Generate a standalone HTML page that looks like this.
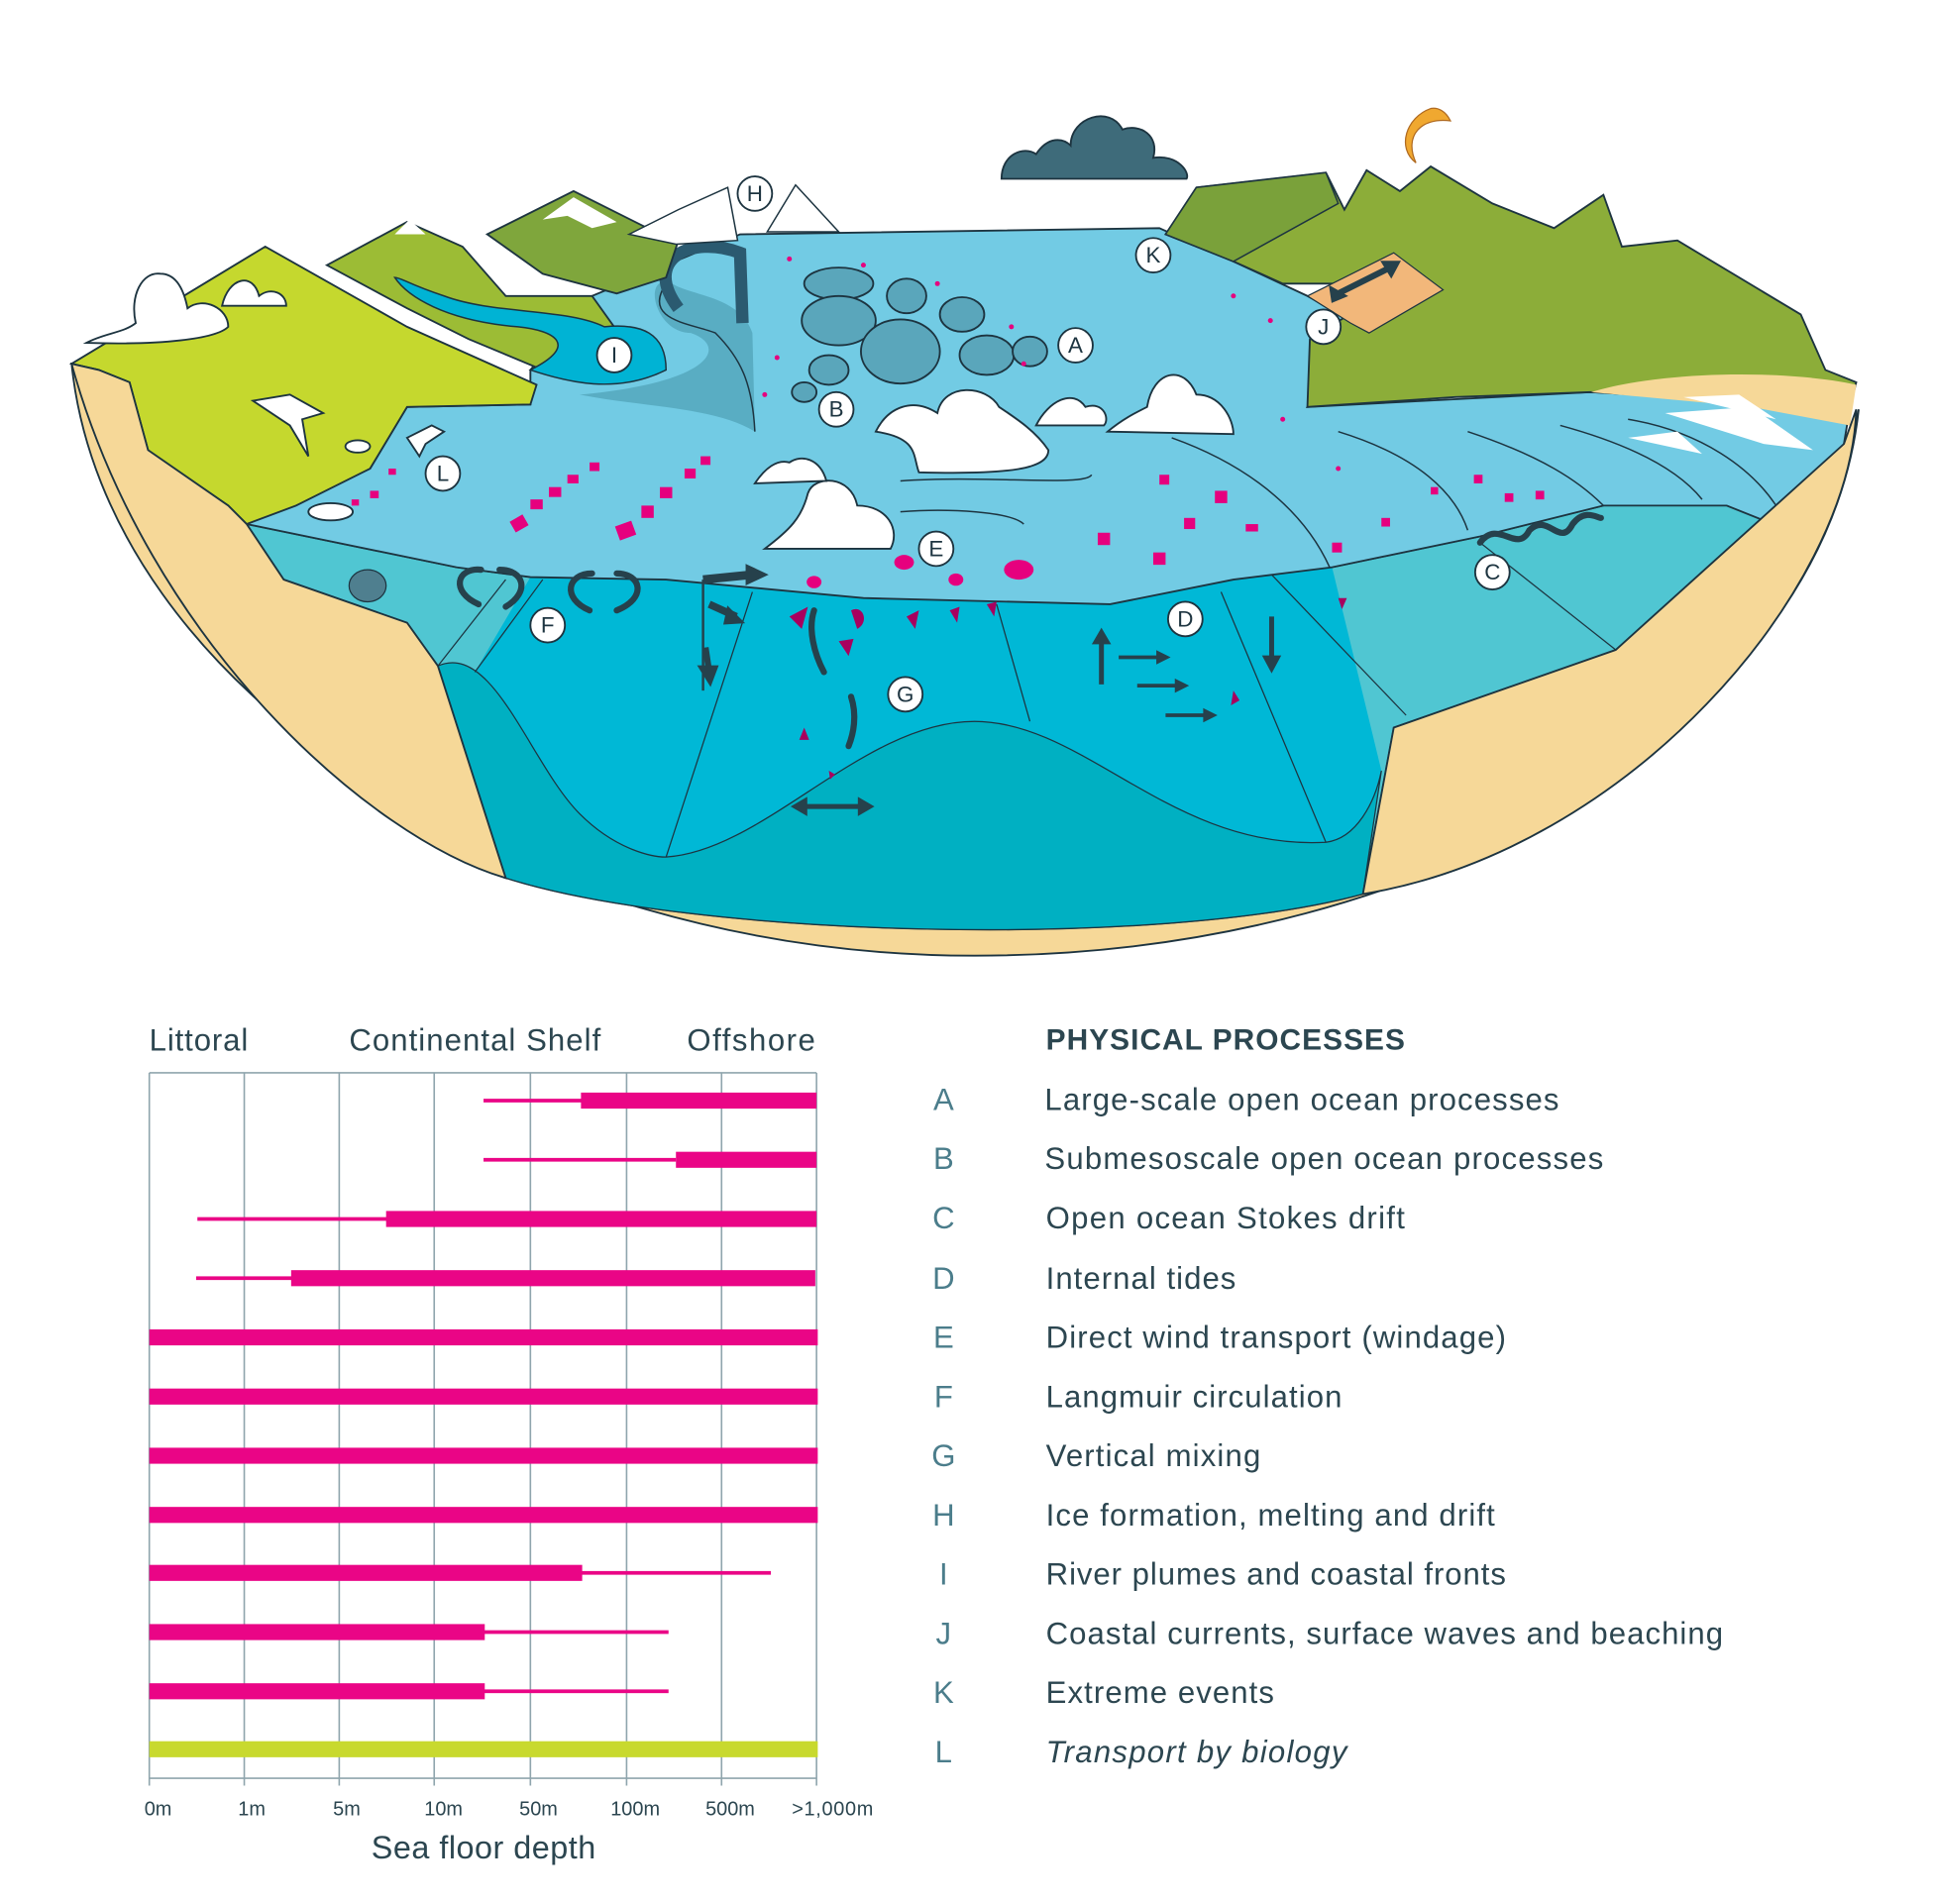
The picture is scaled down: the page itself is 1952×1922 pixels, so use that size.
<!DOCTYPE html>
<html><head><meta charset="utf-8"><style>
html,body{margin:0;padding:0;background:#fff}
svg{display:block}
text{font-family:"Liberation Sans",sans-serif}
</style></head><body>
<svg width="1952" height="1922" viewBox="0 0 1568 1544" xmlns="http://www.w3.org/2000/svg">
<rect width="1568" height="1544" fill="#fff"/>
<path d="M58,295 C85,560 420,775 790,775 C1170,775 1480,580 1507,332 L1500,360 L1300,330 L600,330 Z" fill="#f6d898" stroke="#1d3440" stroke-width="1.5"/>
<path d="M200,425 L230,470 L330,505 L355,540 L410,712 C560,760 940,770 1105,725 L1130,590 L1310,527 L1495,360 L1300,410 L1200,435 L1080,460 L1000,470 L900,490 L700,485 L540,470 L430,468 L370,460 Z" fill="#50c6d2" stroke="#1d3440" stroke-width="1.2"/>
<path d="M355,540 L385,545 L430,468 L540,470 L700,485 L900,490 L1000,470 L1080,460 L1120,625 L1105,725 C940,770 560,760 410,712 Z" fill="#00b8d6"/>
<path d="M355,540 C400,520 430,620 470,660 C500,690 530,695 540,695 C620,690 700,585 790,585 C880,585 950,690 1075,683 C1100,680 1115,650 1120,625 L1105,725 C940,770 560,760 410,712 Z" fill="#00b0c2" stroke="#1d3440" stroke-width="1"/>
<g stroke="#1d3440" stroke-width="1" fill="none">
<path d="M540,695 L610,480"/><path d="M835,585 L808,490"/><path d="M1075,683 L990,480"/><path d="M1140,580 L1030,465"/><path d="M1310,527 L1200,440"/>
<path d="M355,540 L410,470"/><path d="M385,545 L440,470"/>
</g>
<path d="M200,425 L300,380 L330,330 L430,328 L430,300 L480,240 L600,190 L940,185 L1000,212 L1060,240 L1100,262 L1060,330 L1290,318 L1500,330 L1495,360 L1450,430 L1400,410 L1300,410 L1200,435 L1080,460 L1000,470 L900,490 L700,485 L540,470 L430,468 L370,460 Z" fill="#72cbe4" stroke="#1d3440" stroke-width="1.5"/>
<g stroke="#1d3440" stroke-width="1.2" fill="none">
<path d="M950,355 C1020,380 1060,420 1078,460"/><path d="M1085,350 C1150,370 1180,400 1190,430"/><path d="M1190,350 C1250,370 1280,390 1300,410"/><path d="M1265,345 C1320,360 1360,380 1380,405"/><path d="M1320,340 C1380,350 1420,380 1440,410"/>
<path d="M730,390 C800,385 880,395 885,385"/><path d="M730,415 C770,412 820,415 830,425"/>
</g>
<g fill="#5aa6bb" stroke="#1d3440" stroke-width="1.5">
<ellipse cx="680" cy="230" rx="28" ry="13"/><ellipse cx="735" cy="240" rx="16" ry="14"/><ellipse cx="780" cy="255" rx="18" ry="14"/>
<ellipse cx="680" cy="260" rx="30" ry="20"/><ellipse cx="730" cy="285" rx="32" ry="26"/><ellipse cx="800" cy="288" rx="22" ry="16"/><ellipse cx="835" cy="285" rx="14" ry="12"/>
<ellipse cx="672" cy="300" rx="16" ry="12"/><ellipse cx="652" cy="318" rx="10" ry="8"/>
</g>
<path d="M470,320 C520,330 580,330 612,350 L610,270 C600,240 560,240 545,230 C520,220 530,270 560,270 C590,280 580,310 470,320 Z" fill="#4f9fb5" opacity="0.7"/>
<path d="M540,230 C520,260 560,262 580,270 C600,290 610,310 612,350" fill="none" stroke="#1d3440" stroke-width="1.2"/>
<path d="M550,250 C520,210 560,190 600,205 L602,262" fill="none" stroke="#2b5a70" stroke-width="10"/>
<path d="M58,295 L215,200 L330,265 L435,312 L430,328 L330,330 L300,380 L240,410 L200,425 L185,410 L120,365 L105,310 L80,300 Z" fill="#c5d82e" stroke="#1d3440" stroke-width="1.5"/>
<path d="M58,295 L80,300 L105,310 L120,365 L185,410 L200,425 L230,470 L330,505 L355,540 L410,712 C300,680 120,520 58,295 Z" fill="#f6d898" stroke="#1d3440" stroke-width="1.5"/>
<path d="M265,215 L330,180 L375,200 L410,240 L480,240 L500,268 L440,300 L380,275 L330,250 Z" fill="#9cbc35" stroke="#1d3440" stroke-width="1.5"/>
<path d="M395,190 L465,155 L525,185 L550,195 L540,225 L500,238 L440,222 Z" fill="#7fa63c" stroke="#1d3440" stroke-width="1.5"/>
<path d="M440,178 L465,160 L500,180 L480,185 L460,175 Z" fill="#fff"/>
<path d="M320,190 L332,178 L345,190 Z" fill="#fff"/>
<path d="M320,225 C330,240 360,260 420,265 C450,268 470,280 430,300 C460,310 500,320 540,300 C540,270 520,262 490,265 C460,250 400,255 360,240 C330,230 325,225 320,225 Z" fill="#00b3d4" stroke="#1d3440" stroke-width="1.2"/>
<path d="M510,190 L550,170 L590,152 L598,195 L548,198 Z" fill="#fff" stroke="#1d3440" stroke-width="1.2"/>
<path d="M622,188 L645,150 L680,188 Z" fill="#fff" stroke="#1d3440" stroke-width="1.2"/>
<path d="M945,190 L970,152 L1075,140 L1090,170 L1108,138 L1135,155 L1160,135 L1210,165 L1260,185 L1300,158 L1315,200 L1360,195 L1460,255 L1480,300 L1505,310 L1500,330 L1290,318 L1180,322 L1060,330 L1062,275 L1110,245 L1100,230 L1040,230 L1000,212 Z" fill="#8cad39" stroke="#1d3440" stroke-width="1.5"/>
<path d="M945,190 L970,152 L1075,140 L1085,165 L1000,212 Z" fill="#7aa13a" stroke="#1d3440" stroke-width="1.2"/>
<path d="M1060,240 L1130,205 L1170,235 L1110,270 L1095,262 Z" fill="#f2b77a" stroke="#1d3440" stroke-width="1"/>
<path d="M1290,318 C1350,300 1450,300 1505,312 L1500,345 L1420,330 Z" fill="#f6d898"/>
<g fill="#fff"><path d="M1350,335 L1420,330 L1470,365 L1430,360 Z"/><path d="M1365,322 L1410,320 L1440,340 Z"/><path d="M1320,355 L1360,350 L1380,368 Z"/></g>
<path d="M1495,360 L1505,332 C1500,480 1320,690 1105,725 L1130,590 L1310,527 Z" fill="#f6d898" stroke="#1d3440" stroke-width="1.5"/>
<path d="M1160,88 C1140,95 1132,120 1148,132 C1138,110 1152,95 1176,98 C1172,90 1166,87 1160,88 Z" fill="#f0a830" stroke="#b06a20" stroke-width="1"/>
<path d="M812,145 C812,125 830,118 840,125 C850,110 862,112 868,118 C868,95 900,85 910,105 C925,100 940,110 935,128 C955,125 965,140 962,145 Z" fill="#3e6b7a" stroke="#1d3440" stroke-width="1.5"/>
<g fill="#fff" stroke="#1d3440" stroke-width="1.5">
<path d="M70,278 C85,270 100,270 110,262 C105,240 115,220 130,222 C145,222 150,240 152,250 C165,240 185,250 185,265 C175,275 130,280 70,278 Z"/>
<path d="M180,248 C185,225 205,220 210,240 C220,232 232,238 232,248 Z"/>
<path d="M710,350 C720,330 740,322 760,335 C765,310 800,312 810,330 C825,340 840,350 850,365 C850,380 820,385 745,383 C740,370 745,355 710,350 Z"/>
<path d="M898,350 C910,340 920,335 930,330 C935,300 960,295 970,320 C990,320 1000,340 1000,352 Z"/>
<path d="M840,345 C850,325 870,315 880,330 C895,325 900,340 895,345 Z"/>
<path d="M620,445 C640,430 650,420 655,400 C660,385 690,385 695,410 C720,410 730,430 722,445 Z"/>
<path d="M612,392 C620,380 630,372 640,375 C650,368 665,372 670,390 Z"/>
</g>
<g fill="#e6007e">
<rect x="415" y="420" width="12" height="10" transform="rotate(-30 420 425)"/><rect x="430" y="405" width="10" height="8"/><rect x="445" y="395" width="10" height="8"/><rect x="460" y="385" width="9" height="7"/><rect x="478" y="375" width="8" height="7"/>
<rect x="500" y="425" width="14" height="12" transform="rotate(-20 505 430)"/><rect x="520" y="410" width="10" height="10"/><rect x="535" y="395" width="10" height="9"/><rect x="555" y="380" width="9" height="8"/><rect x="568" y="370" width="8" height="7"/>
<ellipse cx="733" cy="456" rx="8" ry="6"/><ellipse cx="826" cy="462" rx="12" ry="8"/><ellipse cx="775" cy="470" rx="6" ry="5"/><ellipse cx="660" cy="472" rx="6" ry="5"/>
<rect x="890" y="432" width="10" height="10"/><rect x="935" y="448" width="10" height="10"/><rect x="960" y="420" width="9" height="9"/><rect x="985" y="398" width="10" height="10"/><rect x="940" y="385" width="8" height="8"/><rect x="1010" y="425" width="10" height="6"/>
<rect x="1080" y="440" width="8" height="8"/><rect x="1120" y="420" width="7" height="7"/><rect x="1195" y="385" width="7" height="7"/><rect x="1220" y="400" width="7" height="7"/><rect x="1245" y="398" width="7" height="7"/><rect x="1160" y="395" width="6" height="6"/>
<rect x="300" y="398" width="7" height="6"/><rect x="285" y="405" width="6" height="5"/><rect x="315" y="380" width="6" height="5"/>
<circle cx="640" cy="210" r="2"/><circle cx="700" cy="215" r="2"/><circle cx="760" cy="230" r="2"/><circle cx="820" cy="265" r="2"/><circle cx="830" cy="295" r="2"/><circle cx="630" cy="290" r="2"/><circle cx="620" cy="320" r="2"/><circle cx="1040" cy="340" r="2"/><circle cx="1085" cy="380" r="2"/><circle cx="1000" cy="240" r="2"/><circle cx="1030" cy="260" r="2"/>
</g>
<g fill="#a8005e">
<path d="M640,500 L655,492 L650,510 Z"/><path d="M690,495 C700,490 705,505 695,510 Z"/><path d="M735,500 L745,495 L742,510 Z"/><path d="M680,520 L692,518 L688,532 Z"/><path d="M770,495 L778,492 L776,505 Z"/><path d="M800,490 L808,488 L806,500 Z"/><path d="M1000,560 L1005,568 L998,572 Z"/><path d="M1085,485 L1092,485 L1088,494 Z"/><path d="M652,590 L656,600 L648,600 Z"/><path d="M672,625 L677,628 L673,632 Z"/>
</g>
<g fill="none" stroke="#26414c" stroke-width="5" stroke-linecap="round">
<path d="M388,490 C365,480 370,460 390,462"/><path d="M410,492 C430,480 425,462 405,462"/>
<path d="M478,495 C455,485 460,465 480,465"/><path d="M500,495 C525,485 520,465 500,465"/>
<path d="M660,495 C655,510 660,530 668,545"/><path d="M690,565 C695,580 692,595 688,605"/>
<path d="M1200,440 C1215,420 1230,450 1240,430 C1255,415 1265,445 1275,425 C1285,412 1295,420 1298,420"/>
</g>
<g stroke="#26414c" fill="#26414c">
<path d="M570,470 L610,466" stroke-width="7"/><path d="M605,458 L622,466 L605,474 Z"/>
<path d="M575,490 L597,500" stroke-width="6"/><path d="M590,492 L603,505 L587,506 Z"/>
<path d="M570,470 L570,560" stroke-width="2" fill="none"/>
<path d="M572,525 L575,545" stroke-width="5"/><path d="M566,540 L576,556 L582,540 Z"/>
<path d="M893,555 L893,520" stroke-width="4"/><path d="M886,522 L893,510 L900,522 Z"/>
<path d="M1031,500 L1031,535" stroke-width="4"/><path d="M1024,532 L1031,545 L1038,532 Z"/>
<path d="M907,533 L940,533" stroke-width="3"/><path d="M938,528 L948,533 L938,538 Z"/>
<path d="M922,556 L955,556" stroke-width="3"/><path d="M953,551 L963,556 L953,561 Z"/>
<path d="M945,580 L978,580" stroke-width="3"/><path d="M976,575 L986,580 L976,585 Z"/>
<path d="M652,654 L698,654" stroke-width="4"/><path d="M654,647 L642,654 L654,661 Z"/><path d="M696,647 L708,654 L696,661 Z"/>
<path d="M1085,238 L1125,218" stroke-width="5"/><path d="M1078,232 L1080,245 L1092,240 Z"/><path d="M1120,212 L1135,212 L1128,225 Z"/>
</g>
<ellipse cx="298" cy="475" rx="15" ry="13" fill="#4f7f8f" stroke="#1d3440"/>
<path d="M205,325 L235,320 L262,335 L245,340 L250,370 L235,345 Z" fill="#fff" stroke="#1d3440" stroke-width="1.5"/>
<path d="M330,355 L350,345 L360,350 L345,360 L340,370 Z" fill="#fff" stroke="#1d3440" stroke-width="1.5"/>
<ellipse cx="268" cy="415" rx="18" ry="7" fill="#fff" stroke="#1d3440" stroke-width="1.5"/>
<ellipse cx="290" cy="362" rx="10" ry="5" fill="#fff" stroke="#1d3440" stroke-width="1.5"/>
<g font-size="18" fill="#1d3440" text-anchor="middle">
<g stroke="#1d3440" stroke-width="1.5" fill="#fff">
<circle cx="612" cy="157" r="14"/><circle cx="935" cy="207" r="14"/><circle cx="1073" cy="265" r="14"/><circle cx="498" cy="288" r="14"/><circle cx="872" cy="280" r="14"/><circle cx="678" cy="332" r="14"/><circle cx="359" cy="384" r="14"/><circle cx="759" cy="445" r="14"/><circle cx="1210" cy="464" r="14"/><circle cx="961" cy="502" r="14"/><circle cx="444" cy="507" r="14"/><circle cx="734" cy="563" r="14"/>
</g>
<text x="612" y="163">H</text><text x="935" y="213">K</text><text x="1073" y="271">J</text><text x="498" y="294">I</text><text x="872" y="286">A</text><text x="678" y="338">B</text><text x="359" y="390">L</text><text x="759" y="451">E</text><text x="1210" y="470">C</text><text x="961" y="508">D</text><text x="444" y="513">F</text><text x="734" y="569">G</text>
</g>

<g fill="#2c4650" font-size="25">
<text x="121" y="852" textLength="80" lengthAdjust="spacing">Littoral</text>
<text x="283" y="852" textLength="204" lengthAdjust="spacing">Continental Shelf</text>
<text x="557" y="852" textLength="104" lengthAdjust="spacing">Offshore</text>
</g>
<g stroke="#8fa5ad" stroke-width="1.3">
<line x1="121" y1="870" x2="662" y2="870"/><line x1="121" y1="1442" x2="662" y2="1442"/>
<line x1="121" y1="870" x2="121" y2="1448"/><line x1="198" y1="870" x2="198" y2="1448"/><line x1="275" y1="870" x2="275" y2="1448"/><line x1="352" y1="870" x2="352" y2="1448"/><line x1="430" y1="870" x2="430" y2="1448"/><line x1="508" y1="870" x2="508" y2="1448"/><line x1="585" y1="870" x2="585" y2="1448"/><line x1="662" y1="870" x2="662" y2="1448"/>
</g>
<g fill="#ea0586">
<rect x="392" y="891" width="80" height="3"/><rect x="471" y="886" width="191" height="13"/>
<rect x="392" y="939" width="156" height="3"/><rect x="548" y="934" width="114" height="13"/>
<rect x="160" y="987" width="154" height="3"/><rect x="313" y="982" width="349" height="13"/>
<rect x="159" y="1035" width="78" height="3"/><rect x="236" y="1030" width="425" height="13"/>
<rect x="121" y="1078" width="542" height="13"/>
<rect x="121" y="1126" width="542" height="13"/>
<rect x="121" y="1174" width="542" height="13"/>
<rect x="121" y="1222" width="542" height="13"/>
<rect x="121" y="1269" width="351" height="13"/><rect x="471" y="1274" width="154" height="3"/>
<rect x="121" y="1317" width="272" height="13"/><rect x="392" y="1322" width="150" height="3"/>
<rect x="121" y="1365" width="272" height="13"/><rect x="392" y="1370" width="150" height="3"/>
</g>
<rect x="121" y="1412" width="542" height="13" fill="#c8d92e"/>
<g fill="#2c4650" font-size="16">
<text x="117" y="1472">0m</text><text x="193" y="1472">1m</text><text x="270" y="1472">5m</text><text x="344" y="1472">10m</text><text x="421" y="1472">50m</text><text x="495" y="1472">100m</text><text x="572" y="1472">500m</text><text x="642" y="1472" textLength="66" lengthAdjust="spacing">&gt;1,000m</text>
</g>
<text x="301" y="1507" fill="#2c4650" font-size="26" textLength="182" lengthAdjust="spacing">Sea floor depth</text>

<text x="848" y="851" fill="#2c4650" font-size="24" font-weight="bold" textLength="291" lengthAdjust="spacing">PHYSICAL PROCESSES</text>
<g fill="#4b7d8b" font-size="25" text-anchor="middle">
<text x="765" y="900">A</text><text x="765" y="948">B</text><text x="765" y="996">C</text><text x="765" y="1045">D</text><text x="765" y="1093">E</text><text x="765" y="1141">F</text><text x="765" y="1189">G</text><text x="765" y="1237">H</text><text x="765" y="1285">I</text><text x="765" y="1333">J</text><text x="765" y="1381">K</text><text x="765" y="1429">L</text>
</g>
<g fill="#2c4650" font-size="25">
<text x="847" y="900" textLength="417" lengthAdjust="spacing">Large-scale open ocean processes</text>
<text x="847" y="948" textLength="453" lengthAdjust="spacing">Submesoscale open ocean processes</text>
<text x="848" y="996" textLength="291" lengthAdjust="spacing">Open ocean Stokes drift</text>
<text x="848" y="1045" textLength="154" lengthAdjust="spacing">Internal tides</text>
<text x="848" y="1093" textLength="373" lengthAdjust="spacing">Direct wind transport (windage)</text>
<text x="848" y="1141" textLength="240" lengthAdjust="spacing">Langmuir circulation</text>
<text x="848" y="1189" textLength="174" lengthAdjust="spacing">Vertical mixing</text>
<text x="848" y="1237" textLength="364" lengthAdjust="spacing">Ice formation, melting and drift</text>
<text x="848" y="1285" textLength="373" lengthAdjust="spacing">River plumes and coastal fronts</text>
<text x="848" y="1333" textLength="549" lengthAdjust="spacing">Coastal currents, surface waves and beaching</text>
<text x="848" y="1381" textLength="185" lengthAdjust="spacing">Extreme events</text>
<text x="848" y="1429" font-style="italic" textLength="244" lengthAdjust="spacing">Transport by biology</text>
</g>
</svg>
</body></html>
